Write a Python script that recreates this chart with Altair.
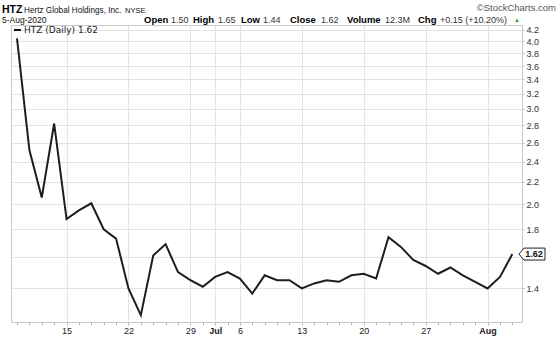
import altair as alt
import pandas as pd

# ---- data ----
dates = ["2020-06-09", "2020-06-10", "2020-06-11", "2020-06-12",
         "2020-06-15", "2020-06-16", "2020-06-17", "2020-06-18", "2020-06-19",
         "2020-06-22", "2020-06-23", "2020-06-24", "2020-06-25", "2020-06-26",
         "2020-06-29", "2020-06-30", "2020-07-01", "2020-07-02",
         "2020-07-06", "2020-07-07", "2020-07-08", "2020-07-09", "2020-07-10",
         "2020-07-13", "2020-07-14", "2020-07-15", "2020-07-16", "2020-07-17",
         "2020-07-20", "2020-07-21", "2020-07-22", "2020-07-23", "2020-07-24",
         "2020-07-27", "2020-07-28", "2020-07-29", "2020-07-30", "2020-07-31",
         "2020-08-03", "2020-08-04", "2020-08-05"]
close = [4.05, 2.52, 2.06, 2.82,
         1.88, 1.95, 2.01, 1.80, 1.73,
         1.40, 1.25, 1.61, 1.69, 1.50,
         1.45, 1.41, 1.47, 1.50,
         1.46, 1.37, 1.48, 1.45, 1.45,
         1.40, 1.43, 1.45, 1.44, 1.48,
         1.49, 1.46, 1.74, 1.67, 1.58,
         1.54, 1.49, 1.53, 1.48, 1.44,
         1.40, 1.47, 1.62]
xtick_idx = [4, 9, 14, 16, 18, 23, 28, 33, 38]
xtick_labels = ["15", "22", "29", "Jul", "6", "13", "20", "27", "Aug"]
xtick_bold = ["Jul", "Aug"]
ytick_vals = [1.4, 1.6, 1.8, 2.0, 2.2, 2.4, 2.6, 2.8, 3.0, 3.2, 3.4, 3.6, 3.8, 4.0, 4.2]

df = pd.DataFrame({"date": dates, "close": close, "idx": list(range(len(dates)))})

# ---- layout ----
L, T, W, H = 11, 25, 511, 297
FONT = "Liberation Sans"

label_expr = ""
for i, lab in zip(xtick_idx, xtick_labels):
    label_expr += f"datum.value == {i} ? '{lab}' : "
label_expr += "''"
major_list = "[" + ",".join(str(i) for i in xtick_idx) + "]"
bold_list = "[" + ",".join(str(i) for i, l in zip(xtick_idx, xtick_labels) if l in xtick_bold) + "]"

x_scale = alt.Scale(domain=[-0.485, 40.78], nice=False, zero=False)
y_scale = alt.Scale(type="log", domain=[1.214, 4.285], nice=False, zero=False)

x_axis = alt.Axis(
    values=list(range(len(dates))), labelExpr=label_expr, title=None,
    labelOverlap=False, labelFont=FONT, labelFontSize=9, labelColor="#222",
    labelFontWeight={"condition": {"test": f"indexof({bold_list}, datum.value) >= 0", "value": "bold"}, "value": "normal"},
    labelPadding=1, tickSize=3, tickColor="#bbbbbb", domain=False,
    grid=True, gridColor="#e4e4e4",
    gridOpacity={"condition": {"test": f"indexof({major_list}, datum.value) >= 0", "value": 1}, "value": 0},
)
y_axis = alt.Axis(
    orient="right", values=ytick_vals, title=None,
    labelExpr="datum.value > 1.55 && datum.value < 1.65 ? '' : format(datum.value, '.1f')",
    labelFont=FONT, labelFontSize=9, labelColor="#333", labelPadding=2,
    tickSize=2, tickColor="#bbbbbb", domain=False,
    grid=True, gridColor="#e4e4e4", labelOverlap=False,
)

line = alt.Chart(df).mark_line(color="#1e1e1e", strokeWidth=2, strokeJoin="miter").encode(
    x=alt.X("idx:Q", scale=x_scale, axis=x_axis),
    y=alt.Y("close:Q", scale=y_scale, axis=y_axis),
)

last = df.tail(1)
box_path = "M -1 0 L -0.62 -0.46 L 1 -0.46 L 1 0.46 L -0.62 0.46 Z"
box = alt.Chart(last).mark_point(shape=box_path, size=676, filled=True, fill="white",
                                 stroke="#222", strokeWidth=1, opacity=1).encode(
    x=alt.value(532 - L), y=alt.Y("close:Q", scale=y_scale))
box_txt = alt.Chart(last).mark_text(font=FONT, fontSize=9, fontWeight="bold", color="#111",
                                    align="center", baseline="middle").encode(
    x=alt.value(534 - L), y=alt.Y("close:Q", scale=y_scale), text=alt.Text("close:Q", format=".2f"))


def txt(s, x, y, size=9, weight="normal", color="#111", font=FONT, align="left"):
    return alt.Chart(pd.DataFrame({"t": [s]})).mark_text(
        font=font, fontSize=size, fontWeight=weight, color=color, align=align, baseline="alphabetic"
    ).encode(text="t:N", x=alt.value(x - L), y=alt.value(y - T))


header = [
    txt("HTZ", 2, 13, size=10.5, weight="bold", color="#000"),
    txt("Hertz Global Holdings, Inc.", 24, 13, size=8.2),
    txt("NYSE", 125, 13, size=7.5),
    txt("5-Aug-2020", 2, 23, size=8.5),
    txt("©StockCharts.com", 556, 11, size=9.5, color="#555", align="right"),
]
pieces = [("Open", 144, True), ("1.50", 171, False), ("High", 193, True), ("1.65", 218, False),
          ("Low", 241, True), ("1.44", 263, False), ("Close", 290, True), ("1.62", 321, False),
          ("Volume", 347, True), ("12.3M", 385, False), ("Chg", 418, True),
          ("+0.15 (+10.20%)", 440, False)]
for s, x, b in pieces:
    header.append(txt(s, x, 23, size=9.5 if b else 9, weight="bold" if b else "normal",
                      color="#000" if b else "#333"))
header.append(txt("▲", 514, 22, size=6, color="#2e9e3e"))

legend_sym = alt.Chart(pd.DataFrame({"a": [0]})).mark_rule(color="#111", strokeWidth=2).encode(
    x=alt.value(3), x2=alt.value(10), y=alt.value(5))
legend_txt = txt(f"HTZ (Daily) {close[-1]:.2f}", 24, 33, size=9, font="DejaVu Sans", color="#222")

chart = alt.layer(line, box, box_txt, legend_sym, legend_txt, *header).properties(
    width=W, height=H, autosize="none",
    padding={"left": L, "top": T, "right": 560 - L - W, "bottom": 338 - T - H},
    background="white",
).configure_view(stroke="#c8c8c8", strokeWidth=1)

chart.save("out.html", embed_options={"renderer": "svg", "actions": False})
